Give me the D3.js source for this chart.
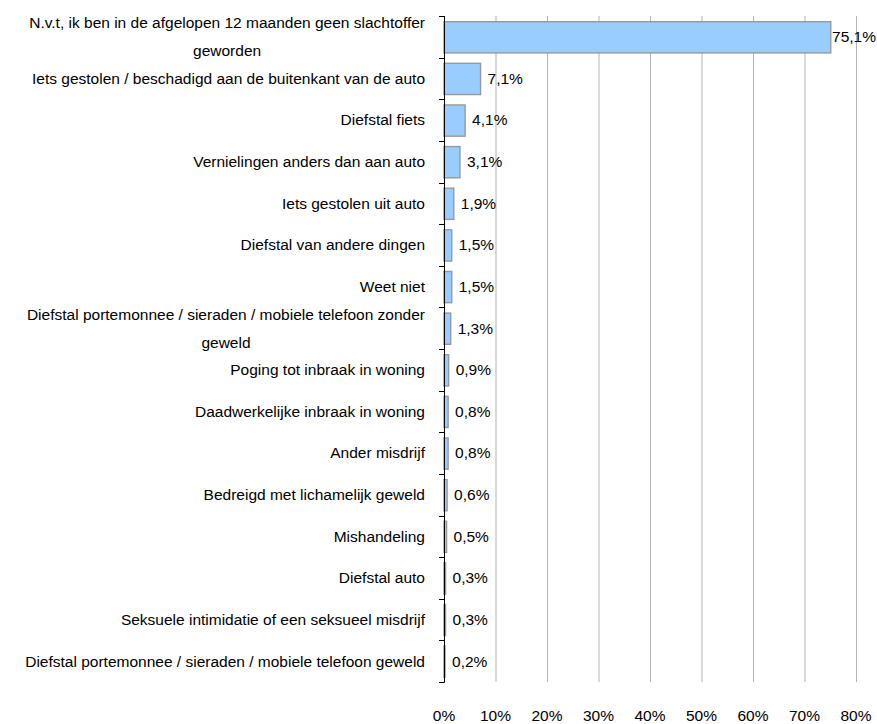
<!DOCTYPE html>
<html><head><meta charset="utf-8">
<script src="https://cdn.jsdelivr.net/npm/d3@7"></script>
<style>body{margin:0;background:#fff;} text{font-family:"Liberation Sans",Arial,sans-serif;fill:#000;}</style>
</head><body><svg id="c" width="877" height="724"></svg>
<script>
const categories = [
  ["N.v.t, ik ben in de afgelopen 12 maanden geen slachtoffer","geworden"],
  ["Iets gestolen / beschadigd aan de buitenkant van de auto"],
  ["Diefstal fiets"],
  ["Vernielingen anders dan aan auto"],
  ["Iets gestolen uit auto"],
  ["Diefstal van andere dingen"],
  ["Weet niet"],
  ["Diefstal portemonnee / sieraden / mobiele telefoon zonder","geweld"],
  ["Poging tot inbraak in woning"],
  ["Daadwerkelijke inbraak in woning"],
  ["Ander misdrijf"],
  ["Bedreigd met lichamelijk geweld"],
  ["Mishandeling"],
  ["Diefstal auto"],
  ["Seksuele intimidatie of een seksueel misdrijf"],
  ["Diefstal portemonnee / sieraden / mobiele telefoon geweld"]
];
const values = [75.1,7.1,4.1,3.1,1.9,1.5,1.5,1.3,0.9,0.8,0.8,0.6,0.5,0.3,0.3,0.2];
const valueLabels = ["75,1%","7,1%","4,1%","3,1%","1,9%","1,5%","1,5%","1,3%","0,9%","0,8%","0,8%","0,6%","0,5%","0,3%","0,3%","0,2%"];
const ticks = [0,10,20,30,40,50,60,70,80];
const tickLabels = ["0%","10%","20%","30%","40%","50%","60%","70%","80%"];

const svg = d3.select("#c");
const pL = 444, pR = 856, pT = 16, pB = 682;
const FS = 15.5;
const x = d3.scaleLinear().domain([0,80]).range([pL,pR]);
const idx = d3.range(categories.length);
const y = d3.scaleBand().domain(idx).range([pT,pB]).paddingInner(0.25).paddingOuter(0.125);
const yb = d3.scaleBand().domain(idx).range([pT,pB]);

// gridlines
svg.append("g").selectAll("line").data(ticks.slice(1)).join("line")
  .attr("x1",d=>x(d)+0.5).attr("x2",d=>x(d)+0.5).attr("y1",pT).attr("y2",pB)
  .attr("stroke","#b3b3b3").attr("stroke-width",1);

// bars
svg.append("g").selectAll("rect").data(values).join("rect")
  .attr("x",x(0)).attr("y",(d,i)=>y(i)+0.5).attr("width",d=>x(d)-x(0)).attr("height",y.bandwidth())
  .attr("fill","#99ccff").attr("stroke","#999").attr("stroke-width",1.4);

// axis line and ticks
const ax = svg.append("g").attr("stroke","#000").attr("stroke-width",1);
ax.append("line").attr("x1",pL+0.5).attr("x2",pL+0.5).attr("y1",pT).attr("y2",pB+0.5);
ax.selectAll("line.t").data(d3.range(categories.length+1)).join("line").attr("class","t")
  .attr("x1",pL-5).attr("x2",pL+0.5)
  .attr("y1",i=>Math.round(pT+i*yb.step())+0.5).attr("y2",i=>Math.round(pT+i*yb.step())+0.5);

// category labels
const lab = svg.append("g").attr("font-size",FS).attr("text-anchor","end");
categories.forEach((lines,i)=>{
  const cy = yb(i)+yb.bandwidth()/2;
  const t = lab.append("text").attr("y",cy).attr("dy","0.35em");
  if(lines.length===1){
    t.append("tspan").attr("x",425).text(lines[0]);
  } else {
    t.append("tspan").attr("x",425).attr("y",cy-14).attr("dy","0.35em").text(lines[0]);
    t.append("tspan").attr("x",425).attr("y",cy+14).attr("dy","0.35em").attr("text-anchor","middle").text(lines[1]);
  }
});
lab.selectAll("text").each(function(){
  const ts = d3.select(this).selectAll("tspan").nodes();
  if(ts.length===2){
    const w = ts[0].getComputedTextLength();
    d3.select(ts[1]).attr("x",425-w/2);
  }
});

// value labels
svg.append("g").attr("font-size",FS).selectAll("text").data(values).join("text")
  .attr("y",(d,i)=>yb(i)+yb.bandwidth()/2).attr("dy","0.35em")
  .text((d,i)=>valueLabels[i])
  .attr("x",function(d){const w=this.getComputedTextLength();return Math.min(x(d)+7,876-w);});

// x tick labels
svg.append("g").attr("font-size",FS).attr("text-anchor","middle").selectAll("text").data(ticks).join("text")
  .attr("x",d=>x(d)).attr("y",721).text((d,i)=>tickLabels[i]);
</script></body></html>
